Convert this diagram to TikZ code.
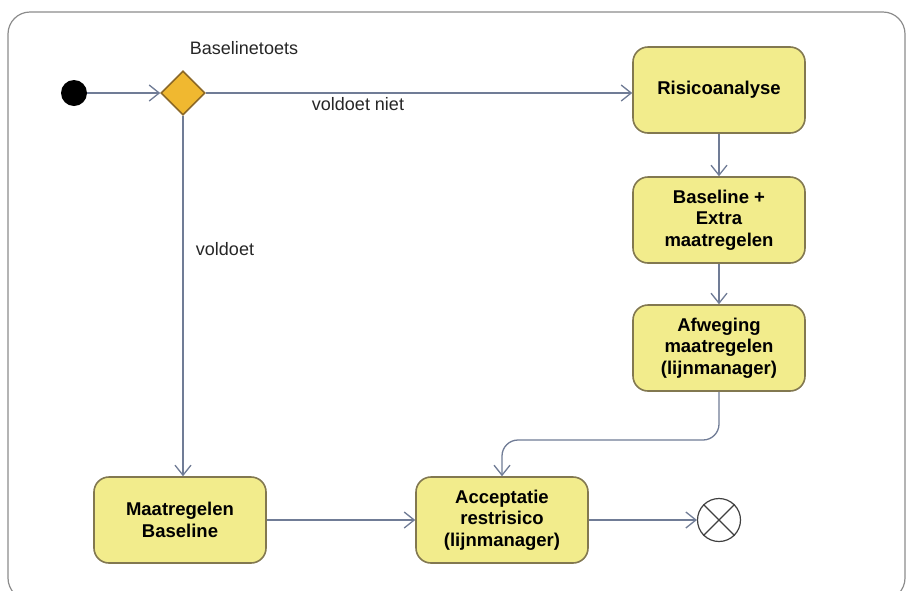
\documentclass[tikz,border=0pt]{standalone}
\usepackage{fontspec}
\setmainfont{Liberation Sans}
\usetikzlibrary{arrows.meta,shapes.geometric}
\definecolor{actfill}{RGB}{242,236,140}
\definecolor{actdraw}{RGB}{130,120,80}
\definecolor{decfill}{RGB}{240,184,48}
\definecolor{decdraw}{RGB}{140,105,40}
\definecolor{flow}{RGB}{112,124,150}
\definecolor{framecol}{RGB}{140,140,140}
\tikzset{
  activity/.style={draw=actdraw, line width=1.6pt, fill=actfill, rounded corners=15pt,
    minimum width=172pt, minimum height=86pt, align=center,
    font=\fontsize{18.5}{21.5}\selectfont\bfseries},
  decision/.style={diamond, draw=decdraw, line width=1.6pt, fill=decfill,
    minimum width=44pt, minimum height=44pt, inner sep=0pt},
  flowline/.style={draw=flow, line width=1.3pt,
    -{Straight Barb[length=10pt,width=16pt,line width=1.3pt]}},
  lbl/.style={font=\fontsize{18}{21}\selectfont, text=black!85}
}
\begin{document}
\begin{tikzpicture}[x=1pt,y=-1pt]
  \useasboundingbox (0,0) rectangle (909,590);
  \fill[white] (0,0) rectangle (909,590);
  % outer frame of the activity
  \draw[framecol, line width=1.2pt, rounded corners=22pt] (8,12) rectangle (905,600);

  % nodes
  \node[circle, fill=black, minimum size=26pt, inner sep=0pt] (start) at (74,93) {};
  \node[decision] (dec) at (183,93) {};
  \node[lbl, anchor=center] (declbl) at (244,48) {Baselinetoets};

  \node[activity] (risk) at (719,90) {Risicoanalyse};
  \node[activity] (extra) at (719,220) {Baseline +\\Extra\\maatregelen};
  \node[activity] (weigh) at (719,348) {Afweging\\maatregelen\\(lijnmanager)};
  \node[activity] (base) at (180,520) {Maatregelen\\Baseline};
  \node[activity] (accept) at (502,520) {Acceptatie\\restrisico\\(lijnmanager)};

  \node[circle, draw=black!75, line width=1.2pt, minimum size=43pt, inner sep=0pt] (final) at (719,520) {};
  \draw[black!75, line width=1.2pt] (final.north east) -- (final.south west)
    (final.north west) -- (final.south east);

  % flows
  \draw[flowline] (start) -- (dec.west);
  \draw[flowline] (dec.east) -- (risk.west |- dec.east);
  \node[lbl] (nolbl) at (358,104) {voldoet niet};
  \draw[flowline] (dec.south) -- (dec.south |- base.north);
  \node[lbl] (yeslbl) at (225,249) {voldoet};
  \draw[flowline] (risk) -- (extra);
  \draw[flowline] (extra) -- (weigh);
  \coordinate (bend) at (weigh.south |- 0,440);
  \draw[flowline, rounded corners=16pt] (weigh.south) -- (bend) -- (bend -| accept.north) -- (accept.north);
  \draw[flowline] (base) -- (accept);
  \draw[flowline] (accept) -- (final);
\end{tikzpicture}
\end{document}
